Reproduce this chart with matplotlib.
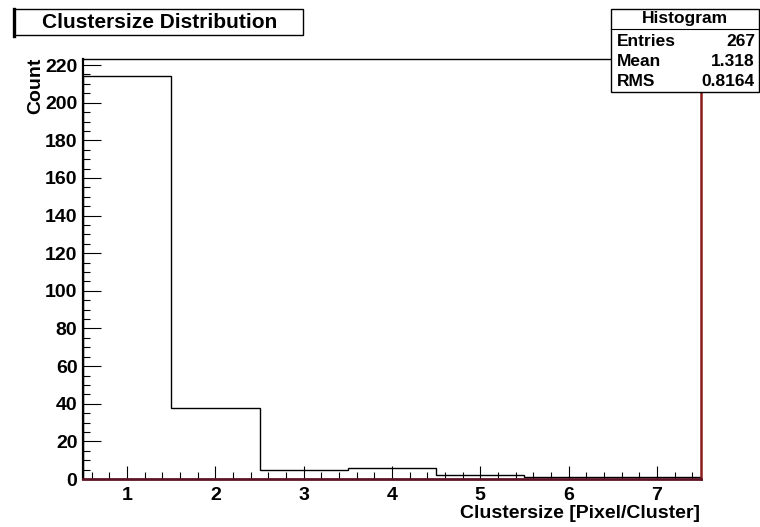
import matplotlib
matplotlib.use("Agg")
import matplotlib.pyplot as plt
from matplotlib.patches import Rectangle
from matplotlib.lines import Line2D
from matplotlib.ticker import MultipleLocator

# Cluster size histogram (pixels per cluster)
cluster_sizes = [1, 2, 3, 4, 5, 6, 7]
counts = [214, 38, 5, 6, 2, 1, 1]
bin_edges = [0.5, 1.5, 2.5, 3.5, 4.5, 5.5, 6.5, 7.5]

title = "Clustersize Distribution"
x_label = "Clustersize [Pixel/Cluster]"
y_label = "Count"
stats_name = "Histogram"
stats_labels = ["Entries", "Mean", "RMS"]
stats_values = ["267", "1.318", "0.8164"]

plt.rcParams["font.family"] = ["Liberation Sans", "DejaVu Sans"]
plt.rcParams["font.weight"] = "bold"

W, H = 760, 527
fig = plt.figure(figsize=(W / 100, H / 100), dpi=100)
fig.patch.set_facecolor("white")


def fx(px):
    return px / W


def fy(py):
    return 1 - py / H


ax_l, ax_r, ax_t, ax_b = 83, 701, 58.5, 479
ax = fig.add_axes([fx(ax_l), fy(ax_b), fx(ax_r) - fx(ax_l), fy(ax_t) - fy(ax_b)])

ax.stairs(counts, bin_edges, color="black", lw=1.0)

ax.set_xlim(0.5, 7.5)
ax.set_ylim(0, 223.5)

ax.xaxis.set_major_locator(MultipleLocator(1))
ax.xaxis.set_minor_locator(MultipleLocator(0.2))
ax.yaxis.set_major_locator(MultipleLocator(20))
ax.yaxis.set_minor_locator(MultipleLocator(5))

ax.tick_params(axis="x", which="major", direction="in", length=9.5, width=0.8,
               labelsize=14, pad=5.5, colors="black", top=False)
ax.tick_params(axis="x", which="minor", direction="in", length=5, width=0.8, top=False)
ax.tick_params(axis="y", which="major", direction="in", length=13, width=0.8,
               labelsize=14, pad=4, right=False)
ax.tick_params(axis="y", which="minor", direction="in", length=5, width=0.8, right=False)
for lbl in ax.get_xticklabels() + ax.get_yticklabels():
    lbl.set_fontweight("bold")

ax.spines["left"].set_color("black")
ax.spines["left"].set_linewidth(1.6)
ax.spines["top"].set_color("black")
ax.spines["top"].set_linewidth(1.0)
ax.spines["right"].set_color("#8a1c1c")
ax.spines["right"].set_linewidth(1.8)
ax.spines["bottom"].set_color("#5c1424")
ax.spines["bottom"].set_linewidth(2.0)

# Axis titles
fig.text(fx(700), fy(513), x_label, ha="right", va="center",
         fontsize=14, fontweight="bold")
fig.text(fx(36), fy(58), y_label, ha="center", va="top", rotation=90,
         fontsize=14, fontweight="bold")

# Title box
fig.add_artist(Rectangle((fx(14), fy(35)), fx(303) - fx(14), fy(9) - fy(35),
                         transform=fig.transFigure, facecolor="white",
                         edgecolor="black", lw=1.0))
fig.add_artist(Line2D([fx(14), fx(14)], [fy(9), fy(36)], transform=fig.transFigure,
                      color="black", lw=2.4))
fig.text(fx(160), fy(22.5), title, ha="center", va="center",
         fontsize=15, fontweight="bold")

# Statistics box
sb_l, sb_r, sb_t, sb_b = 611, 759, 9, 92
fig.add_artist(Rectangle((fx(sb_l), fy(sb_b)), fx(sb_r) - fx(sb_l), fy(sb_t) - fy(sb_b),
                         transform=fig.transFigure, facecolor="white",
                         edgecolor="black", lw=1.0, zorder=5))
fig.add_artist(Line2D([fx(sb_l), fx(sb_r)], [fy(29), fy(29)], transform=fig.transFigure,
                      color="black", lw=0.8, zorder=6))
fig.text(fx((sb_l + sb_r) / 2), fy(18.5), stats_name, ha="center", va="center",
         fontsize=12.5, fontweight="bold", zorder=7)
row_y = [42, 62, 82]
for yy, lab, val in zip(row_y, stats_labels, stats_values):
    fig.text(fx(617), fy(yy), lab, ha="left", va="center",
             fontsize=12.5, fontweight="bold", zorder=7)
    fig.text(fx(755), fy(yy), val, ha="right", va="center",
             fontsize=12.5, fontweight="bold", zorder=7)

fig.savefig("out.png", dpi=100, facecolor="white")
